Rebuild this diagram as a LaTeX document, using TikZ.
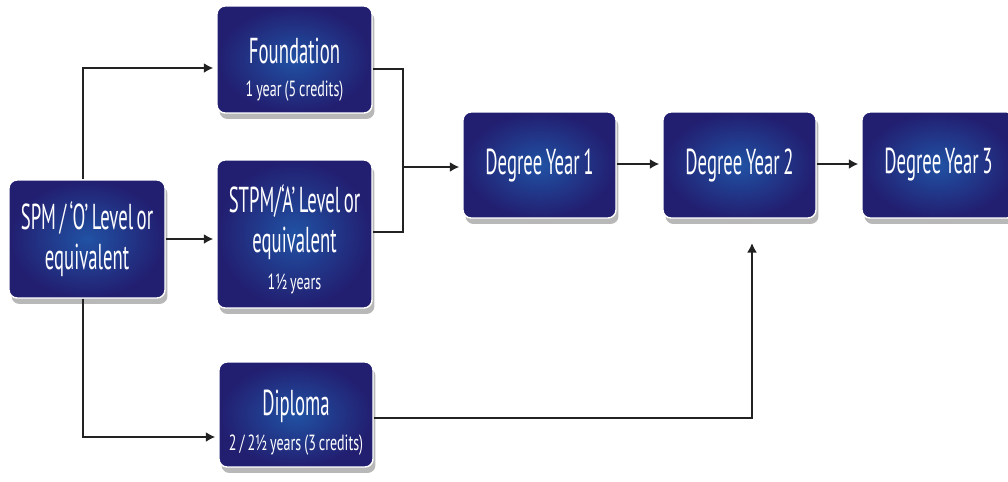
\documentclass[tikz,border=0pt]{standalone}
\usepackage{fontspec}
\setmainfont[FakeStretch=0.52,WordSpace=0.7]{PT Sans}
\newfontfamily\subfont[FakeStretch=0.64,WordSpace=0.8]{PT Sans}
\usetikzlibrary{arrows.meta,shadows}
\definecolor{navy}{HTML}{221E70}
\definecolor{midblue}{HTML}{2152A4}
\definecolor{linegray}{HTML}{222222}
\tikzset{
  box/.style={rounded corners=0.16cm, draw=white, line width=0.8pt,
    inner color=midblue, outer color=navy, text=white, align=center,
    inner sep=0pt,
    drop shadow={shadow xshift=0.05cm, shadow yshift=-0.12cm, fill=gray!70, opacity=0.8}},
  bigtxt/.style={font=\fontsize{20.5}{23}\selectfont},
  conn/.style={draw=linegray, line width=1.5pt},
  arr/.style={conn, -{Latex[length=0.19cm,width=0.2cm]}, shorten >=0.06cm},
}
\newcommand{\subl}[1]{{\subfont\fontsize{12.5}{14}\selectfont #1}}
\begin{document}
\begin{tikzpicture}[x=0.02cm,y=-0.02cm]
\useasboundingbox (0,0) rectangle (1008,481);
% boxes
\node[box, minimum width=3.12cm, minimum height=2.36cm, bigtxt] (spm) at (87,239)
  {SPM / ‘O’ Level or\\equivalent};
\node[box, minimum width=3.1cm, minimum height=2.14cm, bigtxt] (found) at (294.5,59.5)
  {\rule{0pt}{26pt}Foundation\\[-4pt]\subl{1 year (5 credits)}};
\node[box, minimum width=3.1cm, minimum height=2.96cm, bigtxt] (stpm) at (294.5,234)
  {\rule{0pt}{22pt}STPM/‘A’ Level or\\equivalent\\[-2pt]\subl{1½ years}};
\node[box, minimum width=3.08cm, minimum height=2.1cm, bigtxt] (dipl) at (296,414.5)
  {\rule{0pt}{24pt}Diploma\\[-3pt]\subl{2 / 2½ years (3 credits)}};
\node[box, minimum width=3.06cm, minimum height=2.12cm, bigtxt] (dy1) at (539.5,165) {Degree Year 1};
\node[box, minimum width=3.06cm, minimum height=2.12cm, bigtxt] (dy2) at (739.5,165) {Degree Year 2};
\node[box, minimum width=3.06cm, minimum height=2.12cm, bigtxt] (dy3) at (938.5,165) {Degree Year 3};
% bend coordinates
\coordinate (jt) at (83,68);
\coordinate (jm) at (83,239);
\coordinate (jb) at (83,437);
\coordinate (bt) at (403,69);
\coordinate (bm) at (403,167);
\coordinate (bb) at (403,232);
\coordinate (dc) at (752,418);
\coordinate (da) at (752,243);
% connectors
\draw[arr] (spm.north -| jt) |- (found.west |- jt);
\draw[arr] (spm.east |- jm) -- (stpm.west |- jm);
\draw[arr] (spm.south -| jb) |- (dipl.west |- jb);
\draw[conn] (found.east |- bt) -- (bt) -- (bb) -- (stpm.east |- bb);
\draw[arr] (bm) -- (dy1.west |- bm);
\draw[arr] (dy1.east |- 0,164) -- (dy2.west |- 0,164);
\draw[arr] (dy2.east |- 0,164) -- (dy3.west |- 0,164);
\draw[arr, shorten >=0pt] (dipl.east |- dc) -- (dc) -- (da);
\end{tikzpicture}
\end{document}
